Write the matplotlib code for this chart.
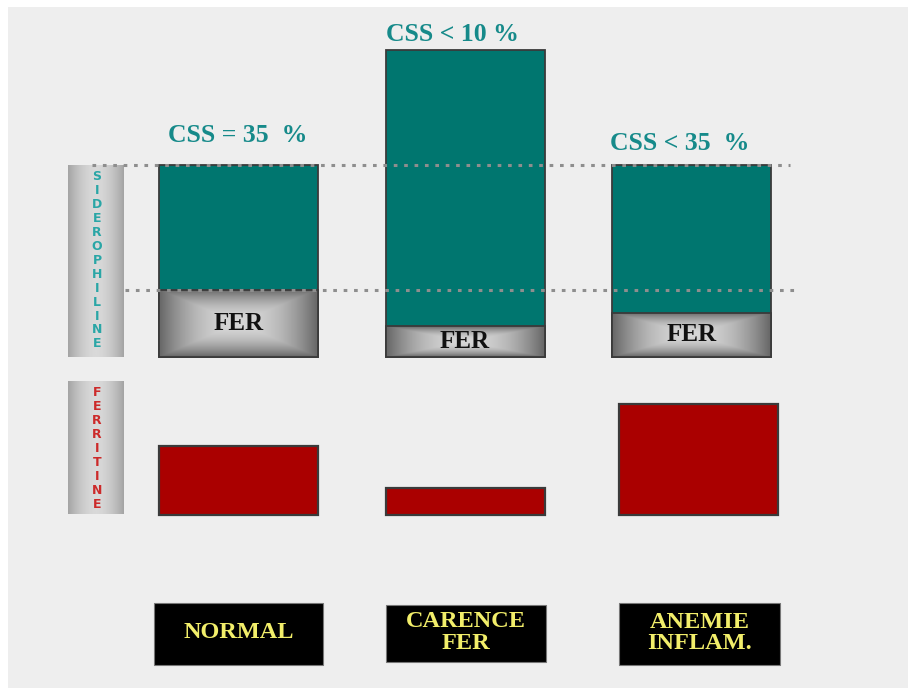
import numpy as np
import matplotlib
matplotlib.use("Agg")
import matplotlib.pyplot as plt
from matplotlib.patches import Rectangle
from matplotlib import transforms

# ---- data -------------------------------------------------------------
categories = ["NORMAL", "CARENCE\nFER", "ANEMIE\nINFLAM."]
capacity = [100, 160, 100]      # siderophiline binding capacity (normal = 100)
iron = [35, 16, 23]             # serum iron bound to siderophiline, same units
ferritin = [100, 39, 161]       # ferritin level (normal = 100)
css_labels = ["CSS = 35  %", "CSS < 10 %", "CSS < 35  %"]
iron_label = "FER"
panel_labels = ["SIDEROPHILINE", "FERRITINE"]

# ---- layout / style ---------------------------------------------------
W, H = 908, 688
X0_PX, STEP_PX = 238.5, 226.5          # pixel centre of first category, spacing
TOP_BASE, TOP_SCALE = 357, 1.92        # pixel baseline / px per unit (siderophiline)
BOT_BASE, BOT_SCALE = 515, 0.69        # pixel baseline / px per unit (ferritin)
BAR_W = 159 / STEP_PX
FERR_SHIFT = [0, 0, 7 / STEP_PX]
TEAL = "#00766f"
RED = "#aa0000"
EDGE = "#3a3a3a"
BG = "#eeeeee"
SERIF = "Liberation Serif"

fig = plt.figure(figsize=(W / 100, H / 100), dpi=100)
fig.patch.set_facecolor("white")

xlim = (-X0_PX / STEP_PX, (W - X0_PX) / STEP_PX)
x = np.arange(len(categories))

# background canvas in pixel units
bg = fig.add_axes([0, 0, 1, 1])
bg.set_xlim(0, W)
bg.set_ylim(H, 0)
bg.axis("off")
bg.add_patch(Rectangle((8, 7), W, H, facecolor=BG, edgecolor="none", zorder=0))


def cylinder(ax, extent, lo, hi, n=200):
    """Horizontal cylinder-like gray gradient."""
    u = np.linspace(-1, 1, n)
    t = np.abs(u) ** 1.8
    img = np.tile(lo * t + hi * (1 - t), (2, 1))
    ax.imshow(img, cmap="gray", vmin=0, vmax=1, extent=extent,
              aspect="auto", interpolation="bilinear", zorder=1)


# side labels
side_boxes = [(68, 124, 357, 165), (68, 124, 514, 381)]
side_colors = ["#2aa6a6", "#cc2a2a"]
for (l, r, b, t), word, col in zip(side_boxes, panel_labels, side_colors):
    cylinder(bg, (l, r, b, t), 0.64, 0.85)
    first, step = t + 12, 13.9
    for i, ch in enumerate(word):
        bg.text((l + r) / 2 + 1, first + i * step, ch, ha="center", va="center",
                color=col, fontsize=9, fontweight="bold",
                family="DejaVu Sans", zorder=2)
bg.set_xlim(0, W)
bg.set_ylim(H, 0)

# ---- siderophiline panel ----------------------------------------------
top = fig.add_axes([0, 0, 1, 1])
top.patch.set_alpha(0)
top.axis("off")
top_ylim = (-(H - TOP_BASE) / TOP_SCALE, TOP_BASE / TOP_SCALE)

top.bar(x, capacity, width=BAR_W, color=TEAL, edgecolor=EDGE,
        linewidth=1.3, zorder=2)

# iron part with a pillow-shaded gray fill
ny, nx = 120, 240
uu, vv = np.meshgrid(np.linspace(-1, 1, nx), np.linspace(-1, 1, ny))
pillow = np.maximum(np.abs(uu), np.abs(vv)) ** 2.0
shade = 0.84 * (1 - pillow) + 0.40 * pillow
fer_bars = top.bar(x, iron, width=BAR_W, facecolor="none", edgecolor=EDGE,
                   linewidth=1.3, zorder=4)
for xi, val, rect in zip(x, iron, fer_bars):
    im = top.imshow(shade, cmap="gray", vmin=0, vmax=1,
                    extent=(xi - BAR_W / 2, xi + BAR_W / 2, 0, val),
                    aspect="auto", interpolation="bilinear", zorder=3)
    im.set_clip_path(rect)
    top.text(xi, val / 2, iron_label, ha="center", va="center",
             fontsize=18, fontweight="bold", family=SERIF,
             color="#111111", zorder=5)

# normal reference levels
top.plot([(92 - X0_PX) / STEP_PX, (790 - X0_PX) / STEP_PX],
         [capacity[0]] * 2, ls=(0, (1.2, 2.2)), lw=2.2, color="#8e8e8e",
         zorder=6)
top.plot([(125 - X0_PX) / STEP_PX, (800 - X0_PX) / STEP_PX],
         [iron[0]] * 2, ls=(0, (1.2, 2.2)), lw=2.2, color="#8e8e8e",
         zorder=6)

# saturation labels
css_offsets = [(-1, 30), (-13, 15), (-12, 22)]
for xi, val, lab, (dx, dy) in zip(x, capacity, css_labels, css_offsets):
    top.annotate(lab, (xi, val), xytext=(dx, dy), textcoords="offset pixels",
                 ha="center", va="center", fontsize=18.5, fontweight="bold",
                 family=SERIF, color="#168a8a", zorder=6)

top.set_xlim(*xlim)
top.set_ylim(*top_ylim)

# ---- ferritin panel ---------------------------------------------------
bot = fig.add_axes([0, 0, 1, 1])
bot.patch.set_alpha(0)
bot.axis("off")
bot.bar(x + np.array(FERR_SHIFT), ferritin, width=BAR_W, color=RED,
        edgecolor=EDGE, linewidth=1.6, zorder=2)
bot.set_xlim(*xlim)
bot.set_ylim(-(H - BOT_BASE) / BOT_SCALE, BOT_BASE / BOT_SCALE)

# ---- category labels --------------------------------------------------
blend = transforms.blended_transform_factory(bot.transData, bg.transData)
box_w = [169, 160, 161]
box_y = [(603, 665), (605, 662), (603, 665)]
label_shift = [0, 0.5, 8]
for xi, lab, w, (y0, y1), sh in zip(x, categories, box_w, box_y, label_shift):
    xc = xi + sh / STEP_PX
    wd = w / STEP_PX
    bot.add_patch(Rectangle((xc - wd / 2, y0), wd, y1 - y0, transform=blend,
                            facecolor="black", edgecolor="#777777",
                            linewidth=0.8, zorder=3))
    bot.text(xc, (y0 + y1) / 2 - 1, lab, transform=blend, ha="center",
             va="center", fontsize=17.5, fontweight="bold", family=SERIF,
             color="#f2ee6a", linespacing=1.02, zorder=4)

fig.savefig("out.png", dpi=100, facecolor=fig.get_facecolor())
